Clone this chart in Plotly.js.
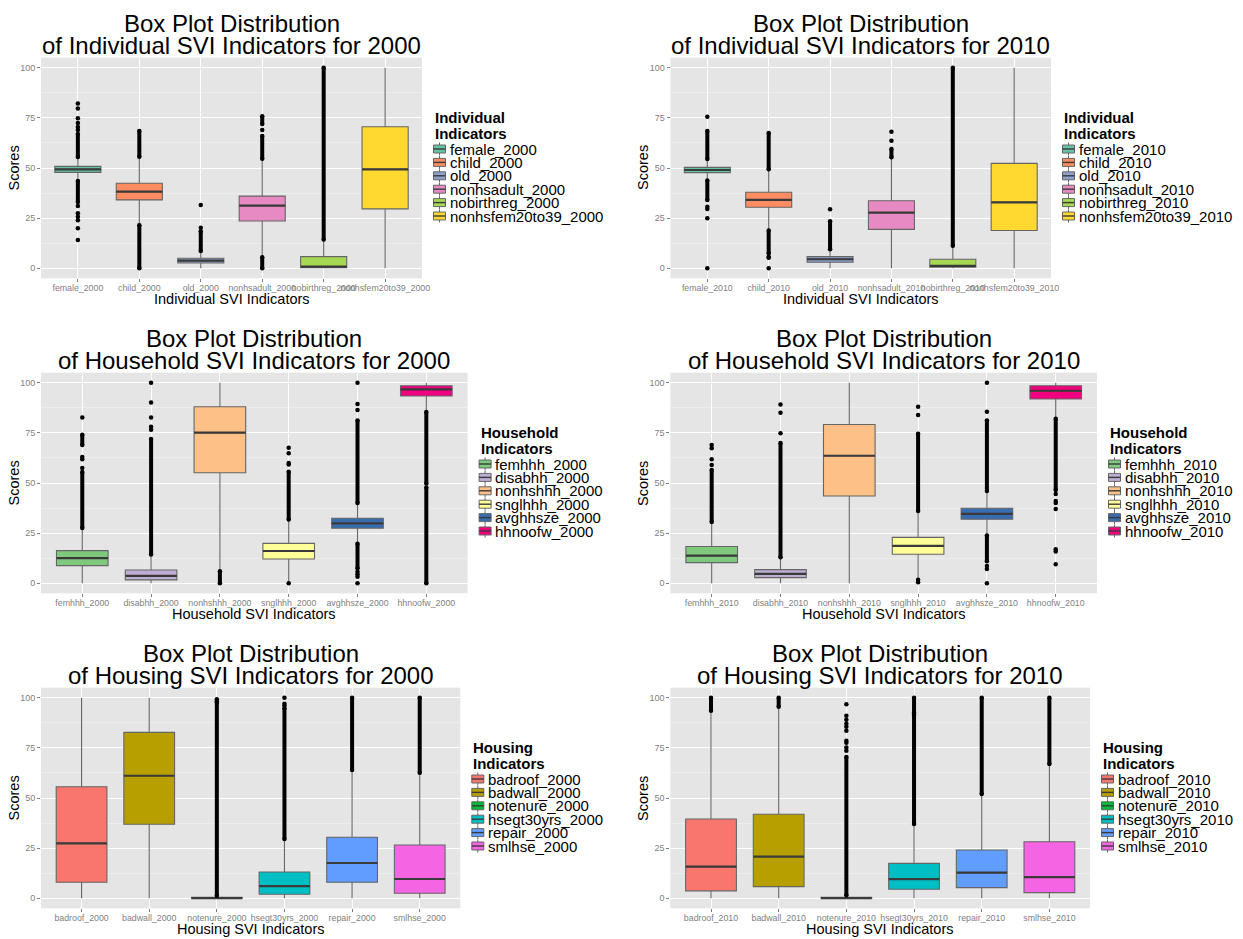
<!DOCTYPE html>
<html>
<head>
<meta charset="utf-8">
<script src="https://cdn.plot.ly/plotly-3.0.1.min.js"></script>
<style>
  html, body { margin: 0; padding: 0; background: #ffffff; }
  #chart { width: 1243px; height: 939px; }
</style>
</head>
<body>
<div id="chart"></div>
<script>
// ---------- Individual indicators ----------
const indLabels2000 = ['female_2000', 'child_2000', 'old_2000', 'nonhsadult_2000', 'nobirthreg_2000', 'nonhsfem20to39_2000'];
const ind2000Q1     = [47.8, 34.1, 2.6, 23.6, 0.3, 29.6];
const ind2000Median = [49.3, 38.2, 3.8, 31.2, 0.8, 49.3];
const ind2000Q3     = [50.8, 42.4, 5.0, 36.0, 5.8, 70.6];
const ind2000Lower  = [43.5, 21.8, 0, 5.8, 0, 0];
const ind2000Upper  = [55.3, 55.3, 8.5, 54.4, 14.2, 100];
// dense outlier stretches: [category index, from, to]
const ind2000Runs = [[0, 55.5, 67], [0, 33, 43.5], [1, 55.6, 68.5], [1, 0, 21.5], [2, 8.6, 18.5],
                     [3, 54.6, 66], [3, 72, 75.8], [3, 0, 5.5], [4, 14.4, 100]];
// single outliers: [category index, value]
const ind2000Dots = [[0, 69], [0, 70.5], [0, 72.5], [0, 74.8], [0, 79.7], [0, 82.2], [0, 31], [0, 27.4],
                     [0, 25.7], [0, 24], [0, 20], [0, 14.1], [2, 20.2], [2, 31.6], [3, 69]];

const indLabels2010 = ['female_2010', 'child_2010', 'old_2010', 'nonhsadult_2010', 'nobirthreg_2010', 'nonhsfem20to39_2010'];
const ind2010Q1     = [47.7, 30.4, 3.0, 19.4, 0.5, 18.8];
const ind2010Median = [49.0, 34.1, 4.5, 27.7, 1.2, 32.9];
const ind2010Q3     = [50.3, 37.9, 5.8, 33.7, 4.5, 52.3];
const ind2010Lower  = [43.8, 19.2, 0, 0, 0, 0];
const ind2010Upper  = [54.2, 49.1, 9.2, 54.8, 10.9, 100];
const ind2010Runs = [[0, 54.5, 68.5], [0, 34, 43.8], [1, 49.4, 67.5], [1, 7.5, 18.8], [2, 9.5, 23.5],
                     [3, 55.3, 59.5], [4, 11.2, 100]];
const ind2010Dots = [[0, 75.6], [0, 30.7], [0, 29.5], [0, 24.9], [0, 0], [1, 5.8], [1, 5.2], [1, 0],
                     [2, 29.4], [3, 63.6], [3, 68.1]];

// ---------- Household indicators ----------
const hhLabels2000 = ['femhhh_2000', 'disabhh_2000', 'nonhshhh_2000', 'snglhhh_2000', 'avghhsze_2000', 'hhnoofw_2000'];
const hh2000Q1     = [8.8, 1.7, 55.1, 12.1, 27.4, 93.4];
const hh2000Median = [12.5, 3.7, 75.1, 16.1, 29.9, 96.7];
const hh2000Q3     = [16.3, 6.6, 88.0, 19.9, 32.4, 98.5];
const hh2000Lower  = [0, 0, 6.2, 0.8, 20.0, 85.6];
const hh2000Upper  = [27.3, 14.0, 100, 31.5, 39.8, 100];
const hh2000Runs = [[0, 27.5, 55.5], [0, 69, 74], [1, 14.3, 72], [2, 0, 6], [3, 31.8, 55.6],
                    [4, 40, 81.2], [4, 7.5, 19.7], [5, 49.8, 85.4], [5, 0, 47.8]];
const hh2000Dots = [[0, 57.5], [0, 61.8], [0, 63], [0, 82.7], [1, 76.5], [1, 78], [1, 82.7], [1, 90.2],
                    [1, 100], [3, 59.2], [3, 60], [3, 64.8], [3, 67.6], [3, 0], [4, 86.4], [4, 89.4],
                    [4, 100], [4, 5.8], [4, 4.5], [4, 3.3], [4, 0]];

const hhLabels2010 = ['femhhh_2010', 'disabhh_2010', 'nonhshhh_2010', 'snglhhh_2010', 'avghhsze_2010', 'hhnoofw_2010'];
const hh2010Q1     = [10.3, 2.8, 43.5, 14.5, 31.9, 91.9];
const hh2010Median = [13.8, 4.7, 63.6, 18.6, 34.6, 96.0];
const hh2010Q3     = [18.3, 6.8, 79.2, 22.9, 37.4, 98.5];
const hh2010Lower  = [0, 0, 0, 2.5, 24.0, 82.2];
const hh2010Upper  = [30.2, 12.8, 100, 35.5, 45.6, 100];
const hh2010Runs = [[0, 30.5, 56.5], [1, 13, 70], [3, 36, 74.5], [4, 46, 81.2], [4, 11, 23.8], [5, 46.5, 82]];
const hh2010Dots = [[0, 59], [0, 61.8], [0, 67.3], [0, 69], [1, 74.8], [1, 85], [1, 89.2], [3, 83.9],
                    [3, 88], [3, 1.7], [3, 0.5], [4, 85.5], [4, 100], [4, 8.6], [4, 7.1], [4, 0],
                    [5, 44.5], [5, 41], [5, 40], [5, 37], [5, 17], [5, 15.8], [5, 9.5]];

// ---------- Housing indicators ----------
const houseLabels2000 = ['badroof_2000', 'badwall_2000', 'notenure_2000', 'hsegt30yrs_2000', 'repair_2000', 'smlhse_2000'];
const house2000Q1     = [8.0, 36.9, 0, 2.0, 8.0, 2.5];
const house2000Median = [27.4, 61.1, 0.1, 6.1, 17.6, 9.6];
const house2000Q3     = [55.6, 82.7, 0.5, 13.1, 30.4, 26.6];
const house2000Lower  = [0, 0, 0, 0, 0, 0];
const house2000Upper  = [100, 100, 1.0, 29.4, 63.8, 62.3];
const house2000Runs = [[2, 1.2, 97.5], [3, 29.6, 94.7], [4, 64, 100], [5, 62.6, 100]];
const house2000Dots = [[2, 98.3], [2, 99.2], [3, 96], [3, 97], [3, 100]];

const houseLabels2010 = ['badroof_2010', 'badwall_2010', 'notenure_2010', 'hsegt30yrs_2010', 'repair_2010', 'smlhse_2010'];
const house2010Q1     = [3.7, 5.8, 0, 4.5, 5.3, 2.8];
const house2010Median = [15.8, 20.8, 0.1, 9.5, 12.8, 10.5];
const house2010Q3     = [39.5, 41.9, 0.5, 17.4, 24.1, 28.2];
const house2010Lower  = [0, 0, 0, 0, 0, 0];
const house2010Upper  = [93.0, 95.0, 1.2, 36.5, 51.5, 66.8];
const house2010Runs = [[0, 93.5, 100], [1, 95.5, 100], [2, 1.5, 70.5], [3, 37, 91.5], [3, 92.5, 100],
                       [4, 52, 100], [5, 67, 100]];
const house2010Dots = [[2, 73.5], [2, 75.2], [2, 77.5], [2, 78.5], [2, 83.5], [2, 85.5], [2, 87],
                       [2, 89], [2, 91], [2, 96.7]];

// ---------- palettes ----------
const individualColors = ['#66C2A5', '#FC8D62', '#8DA0CB', '#E78AC3', '#A6D854', '#FFD92F'];
const householdColors  = ['#7FC97F', '#BEAED4', '#FDC086', '#FFFF99', '#386CB0', '#F0027F'];
const housingColors    = ['#F8766D', '#B79F00', '#00BA38', '#00BFC4', '#619CFF', '#F564E3'];

// ---------- page geometry (pixels) ----------
const W = 1243, H = 939;
const FONT = 'Liberation Sans, Arial, Helvetica, sans-serif';
const BOX_WIDTH = 0.75;

const panels = [
  { labels: indLabels2000, q1: ind2000Q1, med: ind2000Median, q3: ind2000Q3, lo: ind2000Lower, hi: ind2000Upper,
    runs: ind2000Runs, dots: ind2000Dots, colors: individualColors,
    title: 'of Individual SVI Indicators for 2000', xTitle: 'Individual SVI Indicators', legendTitle: 'Individual',
    frame: { left: 41, right: 422, top: 57.7, bottom: 278.3 } },
  { labels: indLabels2010, q1: ind2010Q1, med: ind2010Median, q3: ind2010Q3, lo: ind2010Lower, hi: ind2010Upper,
    runs: ind2010Runs, dots: ind2010Dots, colors: individualColors,
    title: 'of Individual SVI Indicators for 2010', xTitle: 'Individual SVI Indicators', legendTitle: 'Individual',
    frame: { left: 670.5, right: 1051, top: 57.7, bottom: 278.3 } },
  { labels: hhLabels2000, q1: hh2000Q1, med: hh2000Median, q3: hh2000Q3, lo: hh2000Lower, hi: hh2000Upper,
    runs: hh2000Runs, dots: hh2000Dots, colors: householdColors,
    title: 'of Household SVI Indicators for 2000', xTitle: 'Household SVI Indicators', legendTitle: 'Household',
    frame: { left: 41, right: 467.6, top: 372.7, bottom: 593.3 } },
  { labels: hhLabels2010, q1: hh2010Q1, med: hh2010Median, q3: hh2010Q3, lo: hh2010Lower, hi: hh2010Upper,
    runs: hh2010Runs, dots: hh2010Dots, colors: householdColors,
    title: 'of Household SVI Indicators for 2010', xTitle: 'Household SVI Indicators', legendTitle: 'Household',
    frame: { left: 670.4, right: 1097, top: 372.7, bottom: 593.3 } },
  { labels: houseLabels2000, q1: house2000Q1, med: house2000Median, q3: house2000Q3, lo: house2000Lower, hi: house2000Upper,
    runs: house2000Runs, dots: house2000Dots, colors: housingColors,
    title: 'of Housing SVI Indicators for 2000', xTitle: 'Housing SVI Indicators', legendTitle: 'Housing',
    frame: { left: 41, right: 460.3, top: 687.7, bottom: 908.3 } },
  { labels: houseLabels2010, q1: house2010Q1, med: house2010Median, q3: house2010Q3, lo: house2010Lower, hi: house2010Upper,
    runs: house2010Runs, dots: house2010Dots, colors: housingColors,
    title: 'of Housing SVI Indicators for 2010', xTitle: 'Housing SVI Indicators', legendTitle: 'Housing',
    frame: { left: 670.4, right: 1090, top: 687.7, bottom: 908.3 } }
];

const px = x => x / W;
const py = y => 1 - y / H;

const traces = [];
const annotations = [];
const shapes = [];
const layout = {
  width: W, height: H,
  margin: { l: 0, r: 0, t: 0, b: 0 },
  paper_bgcolor: '#ffffff',
  plot_bgcolor: '#E5E5E5',
  boxmode: 'overlay',
  showlegend: false,
  hovermode: false,
  font: { family: FONT, color: '#000000' }
};

const note = (x, y, text, size, extra) => Object.assign({
  xref: 'paper', yref: 'paper', x: px(x), y: py(y),
  xanchor: 'center', yanchor: 'middle', showarrow: false,
  text: text, font: { size: size, color: '#000000', family: FONT }
}, extra || {});

panels.forEach((p, i) => {
  const n = i + 1;
  const xa = 'x' + (n > 1 ? n : '');
  const ya = 'y' + (n > 1 ? n : '');
  const f = p.frame;
  const cats = p.labels.map((_, k) => k);

  layout['xaxis' + (n > 1 ? n : '')] = {
    domain: [px(f.left), px(f.right)],
    anchor: ya,
    range: [-0.6, cats.length - 0.4],
    tickmode: 'array', tickvals: cats, ticktext: p.labels, tickangle: 0,
    ticks: 'outside', ticklen: 3, tickwidth: 1, tickcolor: '#7F7F7F',
    ticklabelstandoff: -2,
    tickfont: { size: 8.8, color: '#7F7F7F', family: FONT },
    showgrid: true, gridcolor: '#FFFFFF', gridwidth: 1,
    zeroline: false, showline: false, fixedrange: true
  };
  layout['yaxis' + (n > 1 ? n : '')] = {
    domain: [py(f.bottom), py(f.top)],
    anchor: xa,
    range: [-5, 105],
    tickmode: 'linear', tick0: 0, dtick: 25,
    ticks: 'outside', ticklen: 3, tickwidth: 1, tickcolor: '#7F7F7F',
    tickfont: { size: 9, color: '#7F7F7F', family: FONT },
    showgrid: true, gridcolor: '#FFFFFF', gridwidth: 1,
    minor: { dtick: 12.5, showgrid: true, gridcolor: '#F2F2F2', gridwidth: 0.6 },
    zeroline: false, showline: false, fixedrange: true
  };

  // one box per indicator, built from precomputed quartiles and whisker ends
  cats.forEach(k => {
    traces.push({
      type: 'box', orientation: 'v', xaxis: xa, yaxis: ya,
      name: p.labels[k],
      x: [k], q1: [p.q1[k]], median: [p.med[k]], q3: [p.q3[k]],
      lowerfence: [p.lo[k]], upperfence: [p.hi[k]],
      width: BOX_WIDTH, whiskerwidth: 0, boxpoints: false,
      fillcolor: p.colors[k],
      line: { color: '#666666', width: 1.1 },
      hoverinfo: 'skip'
    });
  });

  // heavier median bars
  const mx = [], my = [];
  cats.forEach(k => {
    mx.push(k - BOX_WIDTH / 2, k + BOX_WIDTH / 2, null);
    my.push(p.med[k], p.med[k], null);
  });
  traces.push({
    type: 'scatter', mode: 'lines', xaxis: xa, yaxis: ya, x: mx, y: my,
    line: { color: '#3a3a3a', width: 2.2 }, hoverinfo: 'skip'
  });

  // outliers: dense stretches drawn as stacked points, plus single points
  const rx = [], ry = [];
  p.runs.forEach(r => { rx.push(r[0], r[0], null); ry.push(r[1], r[2], null); });
  traces.push({
    type: 'scatter', mode: 'lines+markers', xaxis: xa, yaxis: ya, x: rx, y: ry,
    line: { color: '#000000', width: 4 }, marker: { color: '#000000', size: 4.5 },
    cliponaxis: false, hoverinfo: 'skip'
  });
  traces.push({
    type: 'scatter', mode: 'markers', xaxis: xa, yaxis: ya,
    x: p.dots.map(d => d[0]), y: p.dots.map(d => d[1]),
    marker: { color: '#000000', size: 4.5 }, cliponaxis: false, hoverinfo: 'skip'
  });

  // two-line panel heading and axis titles
  const cx = (f.left + f.right) / 2;
  const yc = (f.top + f.bottom) / 2;
  annotations.push(note(cx, f.top - 34.5, 'Box Plot Distribution', 24));
  annotations.push(note(cx, f.top - 12, p.title, 24));
  annotations.push(note(cx, f.bottom + 21, p.xTitle, 14.5));
  annotations.push(note(f.left - 27.5, yc, 'Scores', 14.5, { textangle: -90 }));

  // key beside each panel
  const lx = f.right + 11;
  annotations.push(note(lx, yc - 50.5, '<b>' + p.legendTitle + '</b>', 15, { xanchor: 'left' }));
  annotations.push(note(lx, yc - 34.9, '<b>Indicators</b>', 15, { xanchor: 'left' }));
  p.labels.forEach((lab, k) => {
    const iy = yc - 19 + 13.4 * k;
    annotations.push(note(lx + 14.5, iy, lab, 15, { xanchor: 'left' }));
    const kx0 = lx + 0.5, kx1 = lx + 12.5, kxm = (kx0 + kx1) / 2;
    shapes.push({
      type: 'rect', xref: 'paper', yref: 'paper',
      x0: px(kx0), x1: px(kx1), y0: py(iy + 4), y1: py(iy - 4),
      fillcolor: p.colors[k], line: { color: '#666666', width: 1 }
    });
    shapes.push({
      type: 'line', xref: 'paper', yref: 'paper',
      x0: px(kx0), x1: px(kx1), y0: py(iy), y1: py(iy),
      line: { color: '#3a3a3a', width: 1.4 }
    });
    shapes.push({
      type: 'line', xref: 'paper', yref: 'paper',
      x0: px(kxm), x1: px(kxm), y0: py(iy - 6.5), y1: py(iy - 4),
      line: { color: '#666666', width: 1 }
    });
    shapes.push({
      type: 'line', xref: 'paper', yref: 'paper',
      x0: px(kxm), x1: px(kxm), y0: py(iy + 4), y1: py(iy + 6.5),
      line: { color: '#666666', width: 1 }
    });
  });
});

layout.annotations = annotations;
layout.shapes = shapes;

Plotly.newPlot('chart', traces, layout, { displayModeBar: false, staticPlot: true });
</script>
</body>
</html>
